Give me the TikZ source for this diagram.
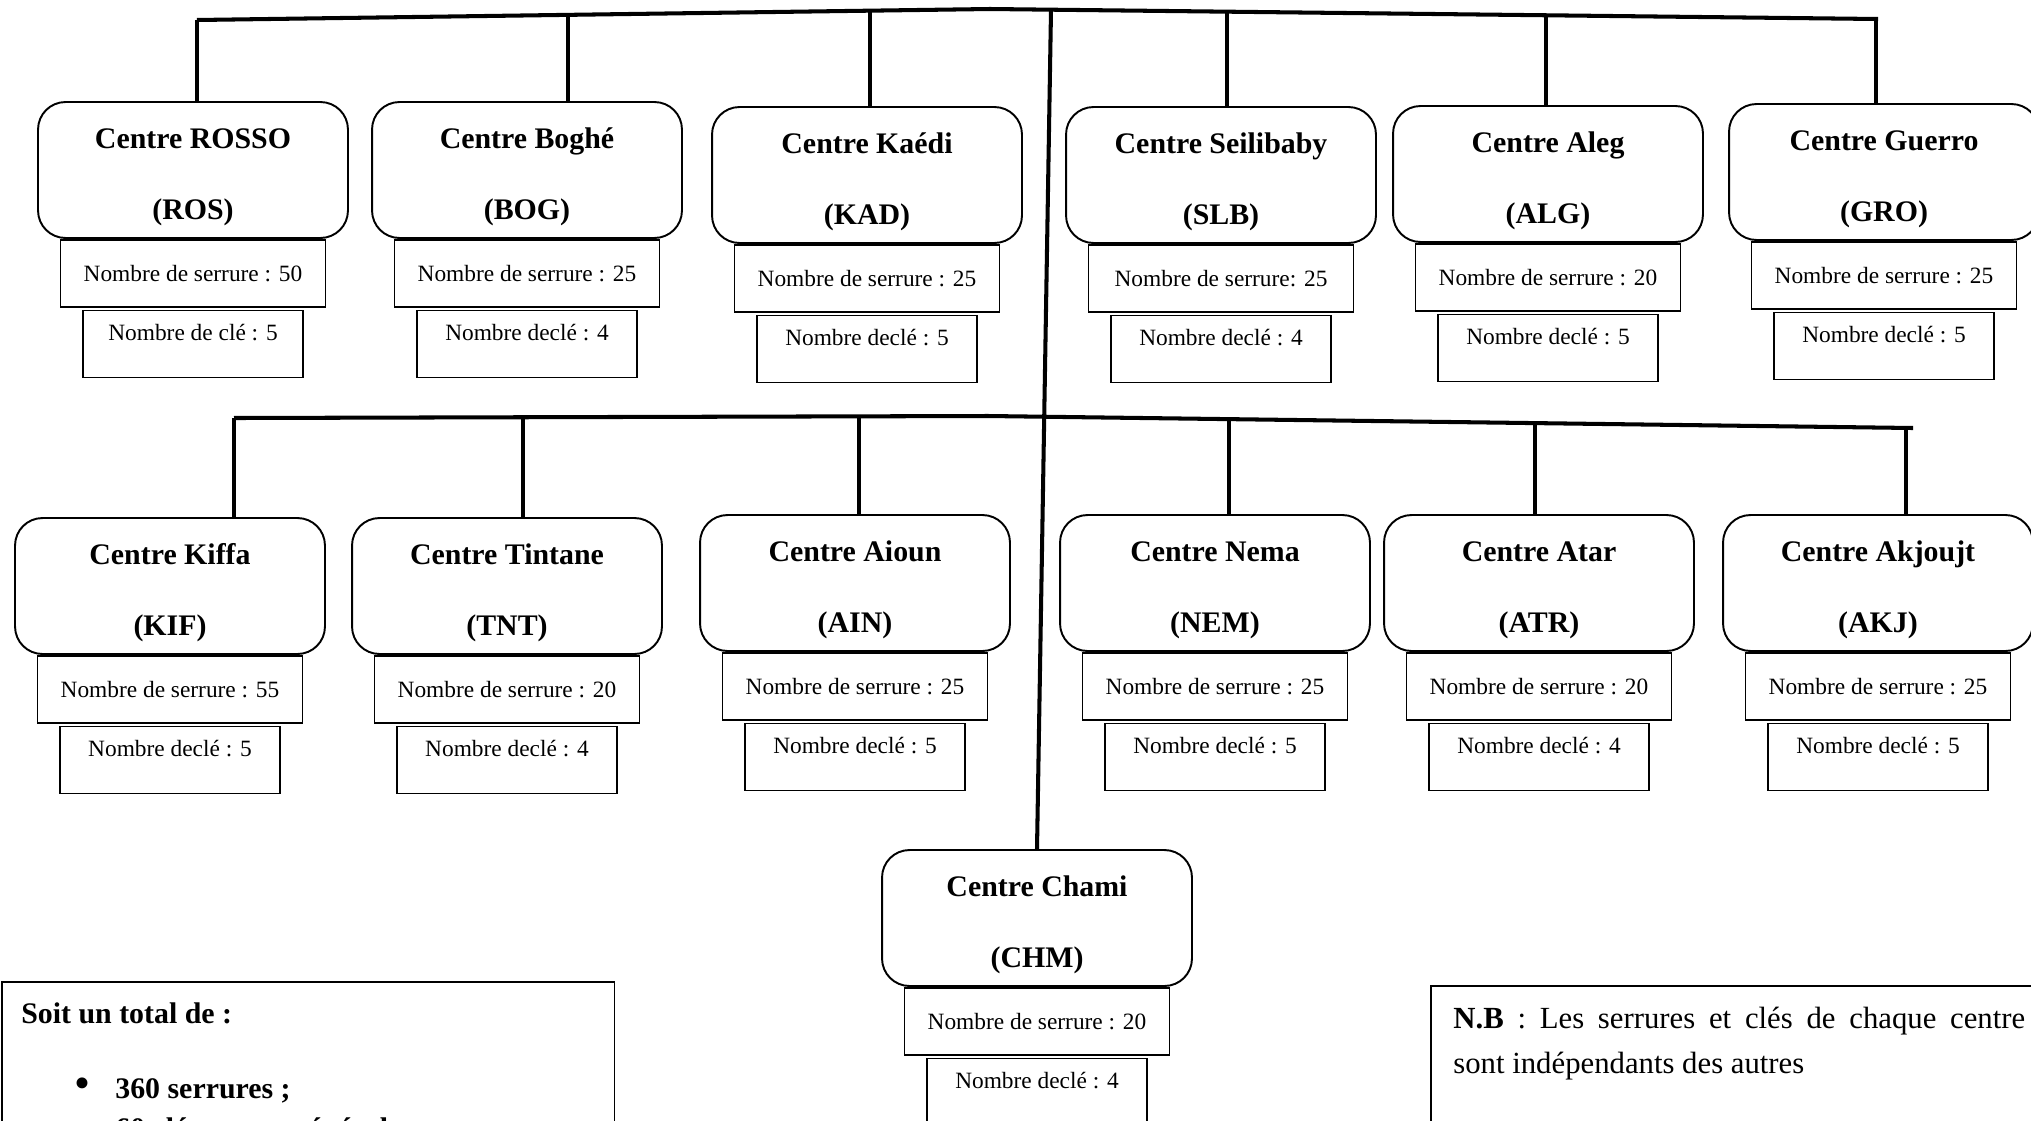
\documentclass[tikz,border=0pt]{standalone}
\usepackage{fontspec}
\setmainfont{Liberation Serif}
\usetikzlibrary{positioning,calc}

\begin{document}
\begin{tikzpicture}[x=0.02cm,y=-0.02cm,
  ctr/.style={draw,line width=1.1pt,rounded corners=0.55cm,minimum width=6.2cm,minimum height=2.72cm},
  ttl/.style={inner sep=0pt,font=\fontsize{17}{20}\selectfont\bfseries,text height=0.45cm,text depth=0.1cm},
  serr/.style={draw,line width=0.9pt,minimum width=5.3cm,minimum height=1.34cm,inner sep=0pt,font=\fontsize{13.3}{15}\selectfont},
  cle/.style={serr,minimum width=4.4cm,text height=0.3cm,text depth=0.45cm},
  frame/.style={draw,line width=0.9pt,anchor=north west,inner sep=0pt},
  bus/.style={line width=2.3pt},
  link/.style={line width=2.2pt}]
  \useasboundingbox (0,0) rectangle (2031,1120);
  \clip (0,0) rectangle (2031,1120);

  \coordinate (tl) at (197,20);
  \coordinate (tm) at (990,9);
  \coordinate (tr) at (1878,19);
  \draw[bus] (tl)--(tm)--(tr);
  \coordinate (ml) at (234,418);
  \coordinate (mm) at (988,416);
  \coordinate (mr) at (1913,428);
  \draw[bus] (ml)--(mm)--(mr);

  \foreach \cd/\x/\y/\nm/\tx/\ty/\sr/\kl in {
    ROS/193/170/ROSSO/197/20/{Nombre de serrure : 50}/{Nombre de clé : 5},
    BOG/527/170/Boghé/568/15/{Nombre de serrure : 25}/{Nombre declé : 4},
    KAD/867/175/Kaédi/870/11/{Nombre de serrure : 25}/{Nombre declé : 5},
    SLB/1221/175/Seilibaby/1227/12/{Nombre de serrure: 25}/{Nombre declé : 4},
    ALG/1548/174/Aleg/1546/15/{Nombre de serrure : 20}/{Nombre declé : 5},
    GRO/1884/172/Guerro/1876/19/{Nombre de serrure : 25}/{Nombre declé : 5},
    KIF/170/586/Kiffa/234/418/{Nombre de serrure : 55}/{Nombre declé : 5},
    TNT/507/586/Tintane/523/417/{Nombre de serrure : 20}/{Nombre declé : 4},
    AIN/855/583/Aioun/859/416/{Nombre de serrure : 25}/{Nombre declé : 5},
    NEM/1215/583/Nema/1229/419/{Nombre de serrure : 25}/{Nombre declé : 5},
    ATR/1539/583/Atar/1535/423/{Nombre de serrure : 20}/{Nombre declé : 4},
    AKJ/1878/583/Akjoujt/1906/428/{Nombre de serrure : 25}/{Nombre declé : 5}}
  {
    \node[ctr] (\cd) at (\x,\y) {};
    \node[ttl] (\cd-n) at ([yshift=-0.78cm]\cd.north) {Centre \nm};
    \node[ttl] (\cd-a) at ([yshift=0.56cm]\cd.south) {(\cd)};
    \node[serr,below=0pt of \cd] (\cd-s) {\sr};
    \node[cle,below=0.04cm of \cd-s] (\cd-k) {\kl};
    \coordinate (\cd-t) at (\tx,\ty);
    \draw[link] (\cd-t)--(\cd-t |- \cd.north);
  }

  \node[ctr] (CHM) at (1037,918) {};
  \node[ttl] (CHM-n) at ([yshift=-0.78cm]CHM.north) {Centre Chami};
  \node[ttl] (CHM-a) at ([yshift=0.56cm]CHM.south) {(CHM)};
  \node[serr,below=0pt of CHM] (CHM-s) {Nombre de serrure : 20};
  \node[cle,below=0.04cm of CHM-s] (CHM-k) {Nombre declé : 4};
  \coordinate (top) at (1051,10);
  \draw[bus] (top)--(CHM.north);

  \node[frame,minimum width=12.26cm,minimum height=4cm] (tot) at (1,981) {};
  \node[anchor=base west,inner sep=0pt,font=\fontsize{17}{20}\selectfont\bfseries] (tot-h) at (21,1023) {Soit un total de :};
  \node[inner sep=0pt,font=\fontsize{26}{26}\selectfont] (b1) at (82,1088) {\textbullet};
  \node[anchor=base west,inner sep=0pt,font=\fontsize{17}{20}\selectfont\bfseries] (l1) at (115,1098) {360 serrures ;};
  \node[inner sep=0pt,font=\fontsize{26}{26}\selectfont] (b2) at (82,1132) {\textbullet};
  \node[anchor=base west,inner sep=0pt,font=\fontsize{17}{20}\selectfont\bfseries] (l2) at (115,1138) {60 clés passes générales ;};

  \node[frame,minimum width=12.5cm,minimum height=4cm] (nb) at (1430,985) {};
  \node[anchor=north west,inner sep=0pt,text width=11.44cm,align=justify,font=\fontsize{17.5}{25.5}\selectfont] (nb-t) at (1453,1007)
    {\textbf{N.B} : Les serrures et clés de chaque centre\linebreak sont indépendants des autres};
\end{tikzpicture}
\end{document}
